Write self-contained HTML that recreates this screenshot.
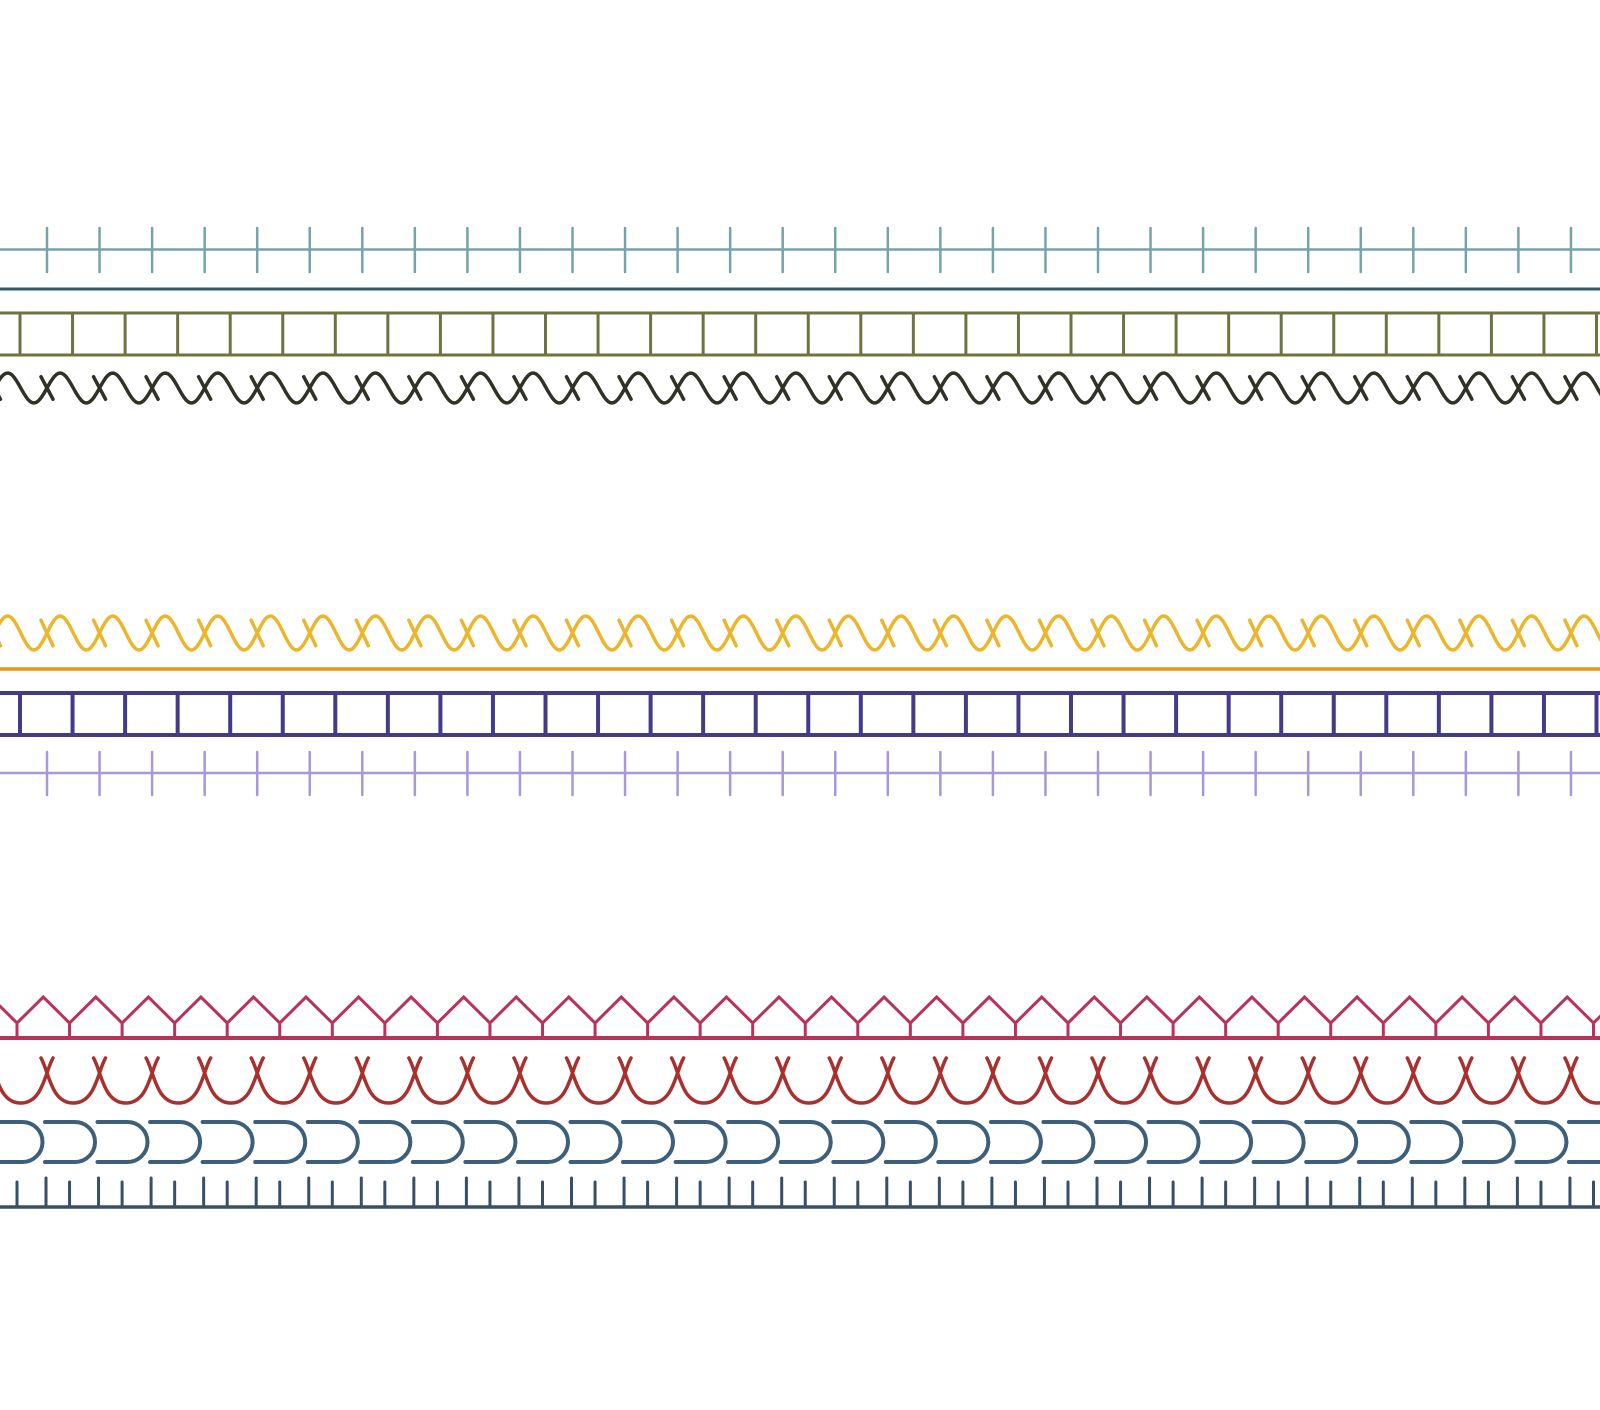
<!DOCTYPE html>
<html><head><meta charset="utf-8"><style>html,body{margin:0;padding:0;background:#fff;}svg{display:block}</style></head>
<body>
<svg id="s" width="1600" height="1410" xmlns="http://www.w3.org/2000/svg" fill="none" stroke-linecap="round"></svg>
<script>
var s=document.getElementById('s'),P=52.55,out='';
function ln(x1,y1,x2,y2,c,w){out+='<line x1="'+x1+'" y1="'+y1+'" x2="'+x2+'" y2="'+y2+'" stroke="'+c+'" stroke-width="'+w+'"/>';}
function pa(d,c,w){out+='<path d="'+d+'" stroke="'+c+'" stroke-width="'+w+'"/>';}
function wave(yc,amp,c,w){var d='';for(var x=-60;x<=1660;x+=2){var y=yc+amp*Math.cos((x-47)/P*2*Math.PI+Math.PI/2);d+=(x==-60?'M':'L')+x+','+y.toFixed(1);}pa(d,c,w);
 for(var k=-1;k<32;k++){var cx=47+k*P;ln(cx-6,yc-amp*0.75,cx+6,yc+amp*0.75,c,w);}}
// group 1
ln(0,249.5,1600,249.5,'#76a3aa',2.5);
for(var k=0;k<31;k++){var x=47+k*P;ln(x,228,x,272,'#76a3aa',2.5);}
ln(0,289,1600,289,'#2e5d66',3);
ln(0,313,1600,313,'#6e7340',3);ln(0,355,1600,355,'#6e7340',3);
for(var k=0;k<31;k++){var x=20+k*P;ln(x,313,x,355,'#6e7340',3);}
wave(388,15,'#2f3226',3.5);
// group 2
wave(633,17,'#ecb62c',3.5);
ln(0,669,1600,669,'#e8950f',3.5);
ln(0,693,1600,693,'#433a8a',4);ln(0,735,1600,735,'#433a8a',4);
for(var k=0;k<31;k++){var x=20+k*P;ln(x,693,x,735,'#433a8a',4);}
ln(0,773,1600,773,'#a898d8',2.5);
for(var k=0;k<31;k++){var x=47+k*P;ln(x,752,x,795,'#a898d8',2.5);}
// group 3
var d='';for(var k=-1;k<31;k++){var t=17+k*P;d+='M'+t+',1038 L'+t+',1023 L'+(t+P/2).toFixed(1)+',997 L'+(t+P).toFixed(1)+',1023 ';}
pa(d,'#b8325a',3);ln(0,1038,1600,1038,'#b8325a',4);
d='';for(var k=-1;k<31;k++){var c=47+k*P;d+='M'+(c-6)+',1058 C'+(c+2)+',1072 '+(c+4)+',1103 '+(c+P/2).toFixed(1)+',1103 C'+(c+P-4).toFixed(1)+',1103 '+(c+P-2).toFixed(1)+',1072 '+(c+P+6).toFixed(1)+',1058 ';}
pa(d,'#a8302e',3.5);
d='';for(var k=-1;k<31;k++){var c=45+k*P;d+='M'+c.toFixed(1)+',1122 L'+(c+30).toFixed(1)+',1122 A20,20 0 0 1 '+(c+30).toFixed(1)+',1162 L'+c.toFixed(1)+',1162 ';}
pa(d,'#3d5f7a',4);
ln(0,1207,1600,1207,'#36506a',3.5);
for(var k=0;k<31;k++){var a=17+k*P,b=46+k*P;ln(a,1182,a,1207,'#36506a',3);ln(b,1178,b,1207,'#36506a',3);}
s.innerHTML=out;
</script>
</body></html>
